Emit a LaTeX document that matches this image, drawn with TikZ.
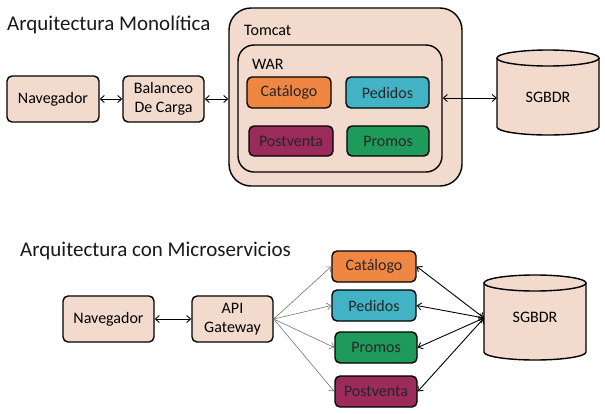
\documentclass[tikz,border=0pt]{standalone}
\usepackage{fontspec}
\setmainfont{Carlito}
\usetikzlibrary{arrows.meta}
\definecolor{beige}{HTML}{F2DBCC}
\definecolor{cOrange}{HTML}{EF8743}
\definecolor{cTeal}{HTML}{41B3C4}
\definecolor{cMaroon}{HTML}{9A2B5A}
\definecolor{cGreen}{HTML}{1E9A5B}
\tikzset{
  box/.style={draw=black, line width=1.4pt, rounded corners=5pt, fill=beige,
    font=\fontsize{16}{19}\selectfont, align=center, inner sep=0pt},
  svc/.style={box, text=black!85},
  title/.style={font=\fontsize{21}{25}\selectfont, anchor=west, inner sep=0pt, text=black!90},
  lbl/.style={font=\fontsize{16}{19}\selectfont, anchor=west, inner sep=0pt},
  dbl/.style={{Straight Barb[length=4pt,width=7pt]}-{Straight Barb[length=4pt,width=7pt]}, line width=0.9pt},
  thin/.style={-{Straight Barb[length=4pt,width=7pt]}, draw=black!55, line width=0.6pt},
}
\newcommand{\cyl}[4]{% x1 x2 ytop ybottom
  \fill[beige] (#1,#3+8) -- (#1,#4-8) arc[start angle=180,end angle=0,x radius={(#2-#1)/2},y radius=8]
    -- (#2,#3+8) arc[start angle=360,end angle=180,x radius={(#2-#1)/2},y radius=8] -- cycle;
  \draw[line width=1.4pt] (#1,#3+8) -- (#1,#4-8) arc[start angle=180,end angle=0,x radius={(#2-#1)/2},y radius=8]
    -- (#2,#3+8);
  \draw[line width=1.4pt] ({(#1+#2)/2},#3+8) ellipse[x radius={(#2-#1)/2},y radius=8];
}
\begin{document}
\begin{tikzpicture}[x=1pt,y=-1pt]
\useasboundingbox (0,0) rectangle (605,413);
% ---------- Monolithic ----------
\node[title] (t1) at (7,25) {Arquitectura Monolítica};
\node[box, minimum width=92pt, minimum height=46pt] (nav1) at (53,99) {Navegador};
\node[box, minimum width=81pt, minimum height=46pt] (bal) at (163.5,99) {Balanceo\\De Carga};
\node[box, rounded corners=22pt, minimum width=233pt, minimum height=178pt] (tomcat) at (345.5,97) {};
\node[lbl] (tomlbl) at (244,30) {Tomcat};
\node[box, rounded corners=16pt, minimum width=204pt, minimum height=127pt] (war) at (340,108.5) {};
\node[lbl] (warlbl) at (252,64) {WAR};
\node[svc, fill=cOrange, minimum width=84pt, minimum height=31pt] (cat1) at (289,92.5) {Catálogo};
\node[svc, fill=cTeal, minimum width=83pt, minimum height=31pt] (ped1) at (387.5,92.5) {Pedidos};
\node[svc, fill=cMaroon, minimum width=84pt, minimum height=30pt] (post1) at (291,141) {Postventa};
\node[svc, fill=cGreen, minimum width=82pt, minimum height=30pt] (prom1) at (388,141) {Promos};
\cyl{497}{599}{50}{135}
\node[font=\fontsize{16}{19}\selectfont, minimum width=102pt, minimum height=85pt, inner sep=0pt] (db1) at (548,97) {SGBDR};
\draw[dbl] (nav1.east) -- (bal.west);
\draw[dbl] (bal.east) -- (bal.east -| tomcat.west);
\draw[dbl] (war.east |- 0,98) -- (db1.west |- 0,98);
% ---------- Microservices ----------
\node[title] (t2) at (20,251) {Arquitectura con Microservicios};
\node[box, minimum width=91pt, minimum height=46pt] (nav2) at (108.5,319) {Navegador};
\node[box, minimum width=81pt, minimum height=46pt] (api) at (232.5,319) {API\\Gateway};
\node[svc, fill=cOrange, minimum width=84pt, minimum height=31pt] (cat2) at (374,266.5) {Catálogo};
\node[svc, fill=cTeal, minimum width=84pt, minimum height=31pt] (ped2) at (374,305.5) {Pedidos};
\node[svc, fill=cGreen, minimum width=82pt, minimum height=31pt] (prom2) at (376,347.5) {Promos};
\node[svc, fill=cMaroon, minimum width=82pt, minimum height=31pt] (post2) at (376,391.5) {Postventa};
\cyl{484}{586}{275}{360}
\node[font=\fontsize{16}{19}\selectfont, minimum width=102pt, minimum height=85pt, inner sep=0pt] (db2) at (535,317.5) {SGBDR};
\coordinate (hub) at (484,318);
\draw[dbl] (nav2.east) -- (api.west);
\foreach \s in {cat2,ped2,prom2,post2} {
  \draw[thin] (api.east) -- (\s.west);
  \draw[dbl] (\s.east) -- (hub);
}
\end{tikzpicture}
\end{document}
